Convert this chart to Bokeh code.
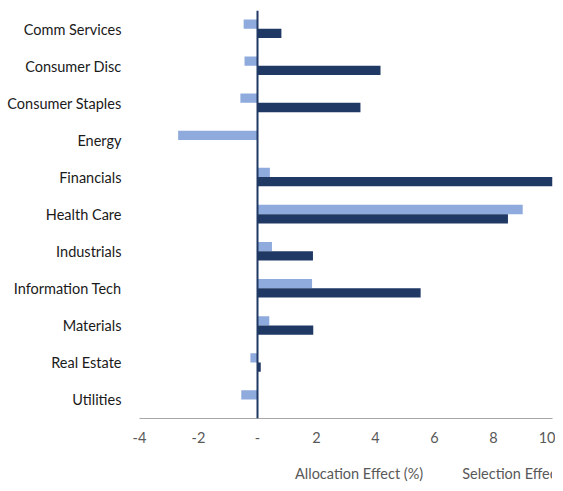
from bokeh.plotting import figure
from bokeh.layouts import column
from bokeh.models import ColumnDataSource, Span, Legend, LegendItem, FixedTicker, FactorRange
from bokeh.transform import dodge
from bokeh.embed import file_html
from bokeh.resources import INLINE

categories = ["Comm Services", "Consumer Disc", "Consumer Staples", "Energy", "Financials",
              "Health Care", "Industrials", "Information Tech", "Materials", "Real Estate", "Utilities"]
allocation = [-0.47, -0.44, -0.58, -2.69, 0.42, 8.99, 0.49, 1.85, 0.40, -0.24, -0.55]
selection = [0.81, 4.17, 3.49, 0.0, 10.1, 8.49, 1.88, 5.53, 1.89, 0.11, 0.0]
x_ticks = [-4, -2, 0, 2, 4, 6, 8, 10]
x_tick_labels = ["-4", "-2", "-", "2", "4", "6", "8", "10"]
series_names = ["Allocation Effect (%)", "Selection Effect (%)"]
series_colors = ["#8FAADC", "#203864"]

FONT = "Lato"
src = ColumnDataSource(dict(cat=categories, alloc=allocation, sel=selection))

p = figure(width=555, height=451, output_backend="svg", toolbar_location=None,
           y_range=FactorRange(*list(reversed(categories))), x_range=(-4, 10),
           min_border_left=139, min_border_right=3, min_border_top=10, min_border_bottom=33)
p.outline_line_color = None
p.grid.visible = False

p.hbar(y=dodge("cat", 0.135, range=p.y_range), left=0, right="alloc", height=0.25,
       source=src, fill_color=series_colors[0], line_color=None)
p.hbar(y=dodge("cat", -0.115, range=p.y_range), left=0, right="sel", height=0.25,
       source=src, fill_color=series_colors[1], line_color=None)

p.add_layout(Span(location=0, dimension="height", line_color="#1F3864", line_width=2))

xa = p.xaxis[0]
xa.ticker = FixedTicker(ticks=x_ticks)
xa.major_label_overrides = {t: s for t, s in zip(x_ticks, x_tick_labels)}
xa.axis_line_color = "#A6A6A6"
xa.axis_line_width = 1
xa.major_tick_line_color = None
xa.minor_tick_line_color = None
xa.major_label_text_font = FONT
xa.major_label_text_font_size = "14.5px"
xa.major_label_text_color = "#595959"
xa.major_label_standoff = 7

ya = p.yaxis[0]
ya.axis_line_color = None
ya.major_tick_line_color = None
ya.minor_tick_line_color = None
ya.major_label_text_font = FONT
ya.major_label_text_font_size = "14.5px"
ya.major_label_text_color = "#1a1a1a"
ya.major_label_standoff = 12

# legend strip below the chart
p2 = figure(width=555, height=32, output_backend="svg", toolbar_location=None,
            x_range=(0, 1), y_range=(0, 1),
            min_border_left=0, min_border_right=0, min_border_top=0, min_border_bottom=0)
p2.outline_line_color = None
p2.grid.visible = False
p2.axis.visible = False
d1 = p2.hbar(y=[], right=[], height=0.25, fill_color=series_colors[0], line_color=None)
d2 = p2.hbar(y=[], right=[], height=0.25, fill_color=series_colors[1], line_color=None)

legend = Legend(items=[LegendItem(label=series_names[0], renderers=[d1]),
                       LegendItem(label=series_names[1], renderers=[d2])],
                orientation="horizontal", location=(142, 1),
                border_line_color=None, background_fill_alpha=0,
                label_text_font=FONT, label_text_font_size="14.5px", label_text_color="#595959",
                glyph_width=10, glyph_height=10, spacing=25, label_standoff=4,
                margin=0, padding=0)
p2.add_layout(legend, "center")

layout = column(p, p2, spacing=0)
open("out.html", "w").write(file_html(layout, INLINE))
